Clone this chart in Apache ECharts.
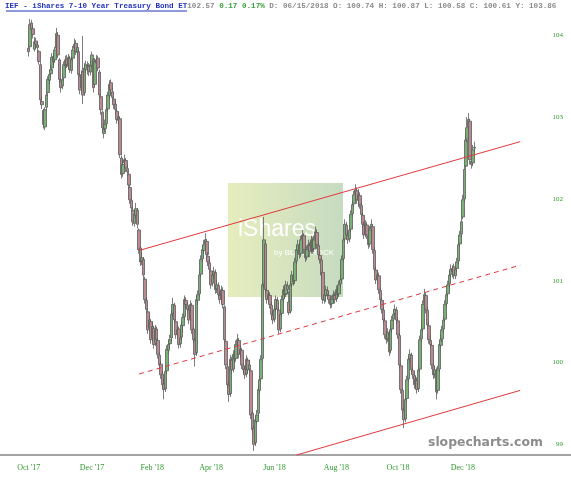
<!DOCTYPE html>
<html>
<head>
<meta charset="utf-8">
<title>IEF</title>
<script src="https://cdn.jsdelivr.net/npm/echarts@6/dist/echarts.min.js"></script>
<style>
  html, body { margin: 0; padding: 0; background: #fff; }
  #main { width: 571px; height: 480px; }
</style>
</head>
<body>
<div id="main"></div>
<script>
// trading calendar (NYSE days), first category = 2017-09-05
const startDate = '2017-09-05';
const calendarLength = 388;
const holidays = ['2017-11-23', '2017-12-25', '2018-01-01', '2018-01-15', '2018-02-19', '2018-03-30',
  '2018-05-28', '2018-07-04', '2018-09-03', '2018-11-22', '2018-12-05', '2018-12-25',
  '2019-01-01', '2019-01-21', '2019-02-18'];
const firstBar = 19; // 2017-10-02
const xTickLabels = ["Oct '17", "Dec '17", "Feb '18", "Apr '18", "Jun '18", "Aug '18", "Oct '18", "Dec '18"];
const yTicks = [99, 100, 101, 102, 103, 104];

// daily candles
const opens = [
  103.84, 103.86, 104.15, 104.08, 103.83, 103.93, 103.88, 103.80, 103.64, 103.19,
  103.08, 102.88, 103.12, 103.30, 103.45, 103.53, 103.60, 103.74, 103.70, 103.84,
  104.00, 103.70, 103.44, 103.38, 103.48, 103.63, 103.71, 103.62, 103.72, 103.57,
  103.72, 103.84, 103.90, 103.79, 103.80, 103.50, 103.36, 103.55, 103.30, 103.58,
  103.63, 103.62, 103.55, 103.63, 103.70, 103.40, 103.66, 103.72, 103.55, 103.25,
  103.06, 102.80, 102.86, 102.92, 103.10, 103.26, 103.42, 103.31, 103.22, 103.16,
  103.07, 102.96, 102.98, 102.50, 102.31, 102.44, 102.47, 102.37, 102.30, 102.14,
  101.98, 101.86, 101.70, 101.80, 101.86, 101.62, 101.40, 101.24, 101.26, 101.02,
  100.76, 100.62, 100.42, 100.50, 100.30, 100.42, 100.24, 100.41, 100.27, 100.09,
  99.98, 99.86, 99.74, 99.68, 99.90, 100.15, 100.23, 100.30, 100.60, 100.70,
  100.50, 100.35, 100.41, 100.23, 100.31, 100.45, 100.56, 100.76, 100.70, 100.64,
  100.54, 100.70, 100.41, 100.27, 100.12, 100.76, 100.84, 101.08, 101.27, 101.37,
  101.45, 101.48, 101.30, 101.22, 101.12, 100.97, 101.08, 101.10, 100.90, 100.94,
  100.82, 100.78, 100.88, 100.68, 100.26, 99.95, 99.72, 99.62, 100.03, 99.92,
  100.09, 100.05, 100.23, 100.27, 100.11, 100.15, 99.96, 99.92, 99.86, 100.03,
  99.92, 99.90, 99.38, 99.20, 99.02, 99.28, 99.38, 99.66, 99.80, 100.05,
  100.96, 101.45, 100.88, 100.78, 100.82, 100.70, 100.58, 100.53, 100.66, 100.76,
  100.64, 100.41, 100.60, 100.78, 100.88, 100.84, 100.94, 100.74, 100.63, 100.96,
  101.06, 101.00, 101.24, 101.37, 101.43, 101.33, 101.51, 101.55, 101.37, 101.29,
  101.39, 101.43, 101.37, 101.49, 101.39, 101.51, 101.59, 101.43, 101.31, 101.25,
  101.10, 100.76, 100.82, 100.88, 100.82, 100.76, 100.72, 100.78, 100.82, 100.78,
  100.88, 100.84, 100.96, 101.02, 101.27, 101.51, 101.68, 101.55, 101.51, 101.63,
  101.82, 101.94, 102.06, 102.10, 101.98, 102.04, 101.92, 101.80, 101.68, 101.57,
  101.68, 101.55, 101.45, 101.63, 101.66, 101.37, 101.13, 101.02, 101.06, 100.88,
  100.76, 100.64, 100.51, 100.33, 100.29, 100.36, 100.15, 100.41, 100.53, 100.60,
  100.64, 100.51, 100.33, 99.96, 99.66, 99.41, 99.31, 99.56, 99.80, 100.05,
  100.09, 99.90, 99.84, 99.74, 99.78, 99.68, 99.92, 100.29, 100.41, 100.72,
  100.82, 100.64, 100.45, 100.27, 100.21, 99.96, 99.86, 99.90, 99.66, 99.92,
  100.21, 100.29, 100.41, 100.53, 100.72, 100.84, 100.96, 101.08, 101.15, 101.17,
  101.06, 101.15, 101.24, 101.45, 101.57, 101.78, 102.00, 102.40, 102.73, 102.88,
  102.95, 102.46, 102.44, 102.62
];
const closes = [
  103.80, 104.13, 104.07, 104.01, 103.92, 103.89, 103.85, 103.68, 103.21, 103.15,
  102.91, 103.09, 103.27, 103.46, 103.52, 103.58, 103.73, 103.68, 103.82, 104.02,
  103.76, 103.46, 103.36, 103.46, 103.64, 103.70, 103.64, 103.73, 103.58, 103.70,
  103.82, 103.89, 103.80, 103.85, 103.52, 103.33, 103.52, 103.27, 103.60, 103.64,
  103.60, 103.56, 103.64, 103.76, 103.36, 103.68, 103.70, 103.60, 103.27, 103.09,
  102.87, 102.85, 102.91, 103.09, 103.27, 103.40, 103.33, 103.24, 103.15, 103.09,
  102.97, 103.00, 102.54, 102.30, 102.42, 102.48, 102.38, 102.33, 102.17, 101.99,
  101.89, 101.72, 101.81, 101.88, 101.69, 101.38, 101.23, 101.28, 101.07, 100.77,
  100.65, 100.40, 100.52, 100.28, 100.44, 100.22, 100.40, 100.28, 100.10, 99.97,
  99.85, 99.73, 99.67, 99.89, 100.16, 100.22, 100.28, 100.59, 100.71, 100.52,
  100.34, 100.40, 100.22, 100.30, 100.46, 100.55, 100.77, 100.71, 100.65, 100.52,
  100.71, 100.40, 100.28, 100.10, 100.77, 100.83, 101.07, 101.26, 101.38, 101.44,
  101.50, 101.32, 101.23, 101.14, 100.95, 101.07, 101.11, 100.89, 100.95, 100.83,
  100.77, 100.89, 100.71, 100.28, 99.97, 99.73, 99.61, 100.04, 99.91, 100.10,
  100.04, 100.22, 100.28, 100.10, 100.16, 99.97, 99.91, 99.85, 100.04, 99.91,
  99.97, 99.36, 99.18, 99.00, 99.30, 99.36, 99.67, 99.79, 100.04, 100.95,
  101.50, 100.89, 100.77, 100.83, 100.71, 100.59, 100.52, 100.65, 100.77, 100.65,
  100.40, 100.59, 100.77, 100.89, 100.83, 100.95, 100.89, 100.61, 100.95, 101.07,
  100.99, 101.23, 101.38, 101.44, 101.32, 101.50, 101.56, 101.38, 101.28, 101.38,
  101.44, 101.36, 101.50, 101.38, 101.50, 101.60, 101.44, 101.32, 101.26, 101.07,
  100.77, 100.83, 100.89, 100.83, 100.77, 100.71, 100.77, 100.83, 100.77, 100.89,
  100.83, 100.95, 101.01, 101.26, 101.50, 101.69, 101.56, 101.50, 101.62, 101.81,
  101.93, 102.05, 102.11, 101.99, 102.05, 101.93, 101.81, 101.69, 101.56, 101.69,
  101.56, 101.44, 101.62, 101.69, 101.38, 101.14, 101.01, 101.07, 100.89, 100.77,
  100.65, 100.52, 100.34, 100.28, 100.37, 100.13, 100.40, 100.52, 100.59, 100.65,
  100.52, 100.34, 99.97, 99.67, 99.42, 99.30, 99.55, 99.79, 100.04, 100.10,
  99.91, 99.85, 99.73, 99.79, 99.67, 99.91, 100.28, 100.40, 100.71, 100.83,
  100.65, 100.46, 100.28, 100.22, 99.97, 99.85, 99.91, 99.64, 99.91, 100.22,
  100.28, 100.40, 100.52, 100.71, 100.83, 100.95, 101.07, 101.14, 101.11, 101.07,
  101.14, 101.23, 101.44, 101.56, 101.72, 101.99, 102.36, 102.72, 102.87, 102.97,
  102.48, 102.42, 102.60, 102.63
];
const highs = [
  103.90, 104.20, 104.19, 104.12, 103.98, 103.97, 103.92, 103.82, 103.68, 103.25,
  103.10, 103.12, 103.31, 103.50, 103.58, 103.64, 103.78, 103.79, 103.86, 104.09,
  104.04, 103.72, 103.48, 103.52, 103.68, 103.75, 103.76, 103.77, 103.75, 103.74,
  103.87, 103.96, 103.94, 103.90, 103.83, 103.54, 103.57, 103.99, 103.66, 103.69,
  103.68, 103.66, 103.69, 103.80, 103.72, 103.72, 103.76, 103.75, 103.58, 103.28,
  103.08, 102.92, 102.97, 103.13, 103.31, 103.45, 103.46, 103.36, 103.26, 103.20,
  103.10, 103.05, 103.01, 102.53, 102.47, 102.54, 102.50, 102.42, 102.33, 102.17,
  102.02, 101.89, 101.86, 101.95, 101.89, 101.64, 101.42, 101.34, 101.29, 101.05,
  100.80, 100.66, 100.58, 100.53, 100.50, 100.45, 100.46, 100.44, 100.30, 100.13,
  100.02, 99.90, 99.80, 99.93, 100.21, 100.28, 100.34, 100.64, 100.79, 100.73,
  100.53, 100.46, 100.44, 100.35, 100.50, 100.60, 100.82, 100.80, 100.74, 100.68,
  100.76, 100.73, 100.44, 100.30, 100.82, 100.88, 101.12, 101.31, 101.43, 101.50,
  101.58, 101.51, 101.35, 101.26, 101.15, 101.12, 101.17, 101.14, 101.00, 100.98,
  100.87, 100.94, 100.92, 100.70, 100.29, 99.98, 99.77, 100.09, 100.07, 100.15,
  100.14, 100.27, 100.35, 100.30, 100.21, 100.18, 100.00, 99.96, 100.09, 100.06,
  100.03, 99.92, 99.40, 99.22, 99.35, 99.42, 99.72, 99.84, 100.09, 101.00,
  101.78, 101.48, 100.92, 100.88, 100.86, 100.74, 100.63, 100.70, 100.82, 100.80,
  100.68, 100.64, 100.82, 100.94, 100.93, 101.00, 100.99, 100.87, 101.00, 101.12,
  101.10, 101.28, 101.43, 101.50, 101.47, 101.55, 101.62, 101.58, 101.41, 101.43,
  101.50, 101.47, 101.55, 101.53, 101.55, 101.66, 101.63, 101.47, 101.36, 101.28,
  101.12, 100.88, 100.94, 100.93, 100.86, 100.80, 100.82, 100.88, 100.86, 100.94,
  100.92, 101.00, 101.07, 101.31, 101.55, 101.75, 101.72, 101.60, 101.67, 101.86,
  101.98, 102.10, 102.18, 102.14, 102.12, 102.08, 101.96, 101.84, 101.72, 101.74,
  101.72, 101.59, 101.67, 101.75, 101.69, 101.41, 101.17, 101.12, 101.10, 100.92,
  100.80, 100.68, 100.55, 100.38, 100.42, 100.40, 100.45, 100.57, 100.65, 100.71,
  100.68, 100.55, 100.36, 99.99, 99.69, 99.45, 99.60, 99.84, 100.09, 100.16,
  100.12, 99.95, 99.88, 99.84, 99.82, 99.96, 100.33, 100.50, 100.76, 100.90,
  100.86, 100.68, 100.49, 100.32, 100.24, 100.00, 99.96, 99.94, 99.96, 100.27,
  100.34, 100.45, 100.57, 100.76, 100.88, 101.00, 101.12, 101.20, 101.19, 101.21,
  101.19, 101.28, 101.49, 101.61, 101.78, 102.05, 102.42, 102.80, 103.00, 103.05,
  102.98, 102.52, 102.66, 102.70
];
const lows = [
  103.74, 103.84, 104.02, 103.96, 103.80, 103.83, 103.79, 103.64, 103.15, 103.10,
  102.86, 102.84, 103.08, 103.26, 103.41, 103.49, 103.57, 103.63, 103.66, 103.80,
  103.72, 103.42, 103.30, 103.34, 103.44, 103.58, 103.60, 103.58, 103.54, 103.53,
  103.68, 103.80, 103.76, 103.74, 103.48, 103.28, 103.32, 103.16, 103.26, 103.54,
  103.52, 103.50, 103.51, 103.60, 103.30, 103.37, 103.62, 103.56, 103.23, 103.03,
  102.82, 102.74, 102.82, 102.89, 103.06, 103.22, 103.28, 103.19, 103.10, 103.04,
  102.92, 102.91, 102.50, 102.25, 102.27, 102.39, 102.33, 102.28, 102.12, 101.94,
  101.84, 101.67, 101.66, 101.76, 101.64, 101.33, 101.18, 101.19, 101.02, 100.72,
  100.60, 100.35, 100.38, 100.23, 100.26, 100.17, 100.20, 100.23, 100.05, 99.92,
  99.80, 99.68, 99.55, 99.64, 99.86, 100.11, 100.18, 100.26, 100.56, 100.47,
  100.29, 100.30, 100.17, 100.18, 100.27, 100.37, 100.52, 100.66, 100.60, 100.47,
  100.50, 100.35, 100.22, 99.95, 100.08, 100.71, 100.80, 101.04, 101.23, 101.33,
  101.41, 101.27, 101.18, 101.09, 100.90, 100.93, 101.03, 100.84, 100.85, 100.78,
  100.72, 100.74, 100.66, 100.23, 99.92, 99.68, 99.52, 99.58, 99.86, 99.88,
  99.99, 100.01, 100.19, 100.05, 100.06, 99.92, 99.86, 99.80, 99.82, 99.86,
  99.88, 99.31, 99.12, 98.92, 98.98, 99.24, 99.34, 99.62, 99.76, 100.01,
  100.92, 100.84, 100.72, 100.73, 100.66, 100.54, 100.47, 100.49, 100.62, 100.60,
  100.35, 100.37, 100.56, 100.74, 100.78, 100.80, 100.84, 100.58, 100.60, 100.92,
  100.94, 100.96, 101.20, 101.33, 101.27, 101.29, 101.46, 101.33, 101.23, 101.25,
  101.35, 101.29, 101.33, 101.33, 101.35, 101.47, 101.39, 101.27, 101.21, 101.02,
  100.72, 100.72, 100.74, 100.78, 100.72, 100.66, 100.67, 100.74, 100.72, 100.74,
  100.78, 100.80, 100.91, 100.98, 101.23, 101.47, 101.51, 101.45, 101.47, 101.59,
  101.78, 101.90, 102.02, 101.94, 101.90, 101.88, 101.76, 101.64, 101.51, 101.53,
  101.51, 101.39, 101.41, 101.59, 101.33, 101.09, 100.96, 100.97, 100.84, 100.72,
  100.60, 100.47, 100.29, 100.23, 100.25, 100.08, 100.11, 100.37, 100.49, 100.56,
  100.47, 100.29, 99.92, 99.62, 99.37, 99.20, 99.27, 99.52, 99.76, 100.00,
  99.86, 99.80, 99.68, 99.69, 99.62, 99.64, 99.88, 100.25, 100.37, 100.68,
  100.60, 100.41, 100.23, 100.17, 99.92, 99.80, 99.81, 99.55, 99.62, 99.88,
  100.17, 100.25, 100.37, 100.49, 100.68, 100.80, 100.92, 101.04, 101.04, 101.02,
  101.02, 101.11, 101.20, 101.41, 101.53, 101.75, 101.96, 102.36, 102.69, 102.82,
  102.42, 102.37, 102.40, 102.56
];

// trend channel: [category index, price]
const upperLine = [[94, 101.37], [353, 102.70]];
const middleLine = [[94, 99.86], [353, 101.19]];
const lowerLine = [[201, 98.87], [353, 99.66]];

const months = ['Jan', 'Feb', 'Mar', 'Apr', 'May', 'Jun', 'Jul', 'Aug', 'Sep', 'Oct', 'Nov', 'Dec'];
function monthLabel(s) {
  return months[+s.slice(5, 7) - 1] + " '" + s.slice(2, 4);
}

// build the list of trading days
const dates = [];
let day = new Date(startDate + 'T00:00:00Z');
while (dates.length < calendarLength) {
  const s = day.toISOString().slice(0, 10);
  const wd = day.getUTCDay();
  if (wd !== 0 && wd !== 6 && holidays.indexOf(s) < 0) dates.push(s);
  day.setUTCDate(day.getUTCDate() + 1);
}

const candles = dates.map(function (s, k) {
  const j = k - firstBar;
  if (j < 0 || j >= closes.length) return '-';
  return [opens[j], closes[j], lows[j], highs[j]];
});

function isTick(index, value) {
  if (index === 0) return false;
  if (value.slice(0, 7) === dates[index - 1].slice(0, 7)) return false;
  return xTickLabels.indexOf(monthLabel(value)) >= 0;
}

const red = '#e0383c';
const labelGreen = '#2f9a2f';

var myChart = echarts.init(document.getElementById('main'));
var option = {
  animation: false,
  backgroundColor: '#fff',
  title: {
    left: 5,
    top: 2,
    padding: 0,
    text: '{t|IEF - iShares 7-10 Year Treasury Bond ET}{n|102.57 }{g|0.17 0.17%}{n| D: 06/15/2018 O: 100.74 H: 100.87 L: 100.58 C: 100.61 Y: 103.86}',
    textStyle: {
      rich: {
        t: { fontFamily: 'Liberation Mono', fontSize: 7.6, fontWeight: 'bold', color: '#2233bb' },
        n: { fontFamily: 'Liberation Mono', fontSize: 7.6, color: '#8a8a8a' },
        g: { fontFamily: 'Liberation Mono', fontSize: 7.6, color: '#3aa03a' }
      }
    }
  },
  grid: { left: 0, right: 0, top: 14, bottom: 25 },
  xAxis: {
    type: 'category',
    data: dates,
    boundaryGap: true,
    axisLine: { lineStyle: { color: '#a3a3a3', width: 2 } },
    axisTick: { show: false },
    splitLine: { show: false },
    axisLabel: {
      interval: isTick,
      formatter: monthLabel,
      color: labelGreen,
      fontFamily: 'Liberation Serif',
      fontSize: 8,
      margin: 9
    }
  },
  yAxis: {
    type: 'value',
    position: 'right',
    min: 98.87,
    max: 104.26,
    axisLine: { show: false },
    axisTick: { show: false },
    splitLine: { show: false },
    axisLabel: {
      inside: true,
      customValues: yTicks,
      color: labelGreen,
      fontFamily: 'Liberation Serif',
      fontSize: 7,
      margin: 8
    }
  },
  graphic: [
    {
      type: 'rect', z: 0, silent: true,
      shape: { x: 228, y: 183, width: 115, height: 114 },
      style: {
        fill: new echarts.graphic.LinearGradient(0, 0, 1, 0, [
          { offset: 0, color: '#e6edbd' },
          { offset: 1, color: '#c6dbc0' }
        ])
      }
    },
    {
      type: 'text', z: 1, silent: true, left: 238, top: 218,
      style: { text: 'iShares', fill: '#ffffff', font: '23px "Liberation Sans"' }
    },
    {
      type: 'text', z: 1, silent: true, left: 274, top: 249,
      style: { text: 'by BLACKROCK', fill: '#ffffff', font: '8px "Liberation Sans"' }
    },
    {
      type: 'line', z: 1, silent: true,
      shape: { x1: 6, y1: 11, x2: 187, y2: 11 },
      style: { stroke: '#2233bb', lineWidth: 1 }
    },
    {
      type: 'text', z: 1, silent: true, left: 428, top: 437,
      style: { text: 'slopecharts.com', fill: '#8c8c8c', font: 'bold 12.4px "DejaVu Sans"' }
    }
  ],
  series: [
    {
      type: 'candlestick',
      data: candles,
      barWidth: 3,
      z: 3,
      itemStyle: {
        color: '#79b174',
        color0: '#b98a90',
        borderColor: '#5c5c5c',
        borderColor0: '#5c5c5c',
        borderWidth: 0.8
      },
      markLine: {
        silent: true,
        symbol: ['none', 'none'],
        label: { show: false },
        lineStyle: { color: red, width: 1, type: 'solid' },
        data: [
          [{ coord: upperLine[0] }, { coord: upperLine[1] }],
          [{ coord: middleLine[0], lineStyle: { type: [5, 4], color: red, width: 1 } }, { coord: middleLine[1] }],
          [{ coord: lowerLine[0] }, { coord: lowerLine[1] }]
        ]
      }
    }
  ]
};
myChart.setOption(option);
</script>
</body>
</html>
